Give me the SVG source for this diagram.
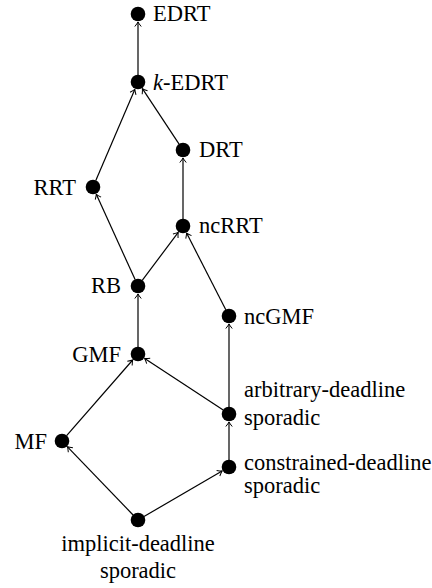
<svg xmlns="http://www.w3.org/2000/svg" width="432" height="588" viewBox="0 0 432 588">
<style>
text{font-family:"Liberation Serif","Times New Roman","DejaVu Serif",serif;font-size:22.5px;fill:#000}
.e{stroke:#000;stroke-width:1.2;fill:none;marker-end:url(#ah)}
circle{fill:#000}
.r{text-anchor:end}
.m{text-anchor:middle}
</style>
<defs>
<marker id="ah" markerUnits="userSpaceOnUse" markerWidth="12" markerHeight="12" refX="0" refY="0" viewBox="-6 -6 12 12" orient="auto" overflow="visible">
<path d="M-4.5,-3.2 Q-1.5,-0.8 0,0 Q-1.5,0.8 -4.5,3.2" fill="none" stroke="#000" stroke-width="1"/>
</marker>
</defs>
<g id="connectors">
<line class="e" x1="138" y1="75" x2="138" y2="22"/>
<line class="e" x1="95.8" y1="180.6" x2="134.8" y2="89.4"/>
<line class="e" x1="179.1" y1="144.2" x2="142.4" y2="88.7"/>
<line class="e" x1="183" y1="219" x2="183" y2="158"/>
<line class="e" x1="135.1" y1="279.6" x2="96.3" y2="194.3"/>
<line class="e" x1="142.2" y1="280.4" x2="178.2" y2="232.4"/>
<line class="e" x1="225.8" y1="309.8" x2="186.6" y2="233.1"/>
<line class="e" x1="138" y1="347" x2="138" y2="294"/>
<line class="e" x1="229" y1="407" x2="229" y2="324"/>
<line class="e" x1="223.2" y1="410.1" x2="144.7" y2="358.4"/>
<line class="e" x1="66.6" y1="435.7" x2="132.7" y2="360"/>
<line class="e" x1="229" y1="460" x2="229" y2="422"/>
<line class="e" x1="133.1" y1="515" x2="67.5" y2="446.8"/>
<line class="e" x1="144" y1="516.5" x2="222.1" y2="471"/>
</g>
<g id="EDRT"><circle cx="138" cy="14" r="7.3"/><text x="153" y="21">EDRT</text></g>
<g id="kEDRT"><circle cx="138" cy="82" r="7.3"/><text x="153" y="90"><tspan font-style="italic">k</tspan>-EDRT</text></g>
<g id="DRT"><circle cx="183" cy="150" r="7.3"/><text x="199" y="157">DRT</text></g>
<g id="RRT"><circle cx="93" cy="187" r="7.3"/><text class="r" x="76" y="195">RRT</text></g>
<g id="ncRRT"><circle cx="183" cy="226" r="7.3"/><text x="199" y="233">ncRRT</text></g>
<g id="RB"><circle cx="138" cy="286" r="7.3"/><text class="r" x="121" y="293">RB</text></g>
<g id="ncGMF"><circle cx="229" cy="316" r="7.3"/><text x="244" y="324">ncGMF</text></g>
<g id="GMF"><circle cx="138" cy="354" r="7.3"/><text class="r" x="121" y="362">GMF</text></g>
<g id="arbitrary"><circle cx="229" cy="414" r="7.3"/><text x="244" y="397">arbitrary-deadline</text><text x="244" y="425">sporadic</text></g>
<g id="MF"><circle cx="62" cy="441" r="7.3"/><text class="r" x="47" y="449">MF</text></g>
<g id="constrained"><circle cx="229" cy="467" r="7.3"/><text x="244" y="470">constrained-deadline</text><text x="244" y="493">sporadic</text></g>
<g id="implicit"><circle cx="138" cy="520" r="7.3"/><text class="m" x="138" y="551">implicit-deadline</text><text class="m" x="138" y="578">sporadic</text></g>
</svg>
